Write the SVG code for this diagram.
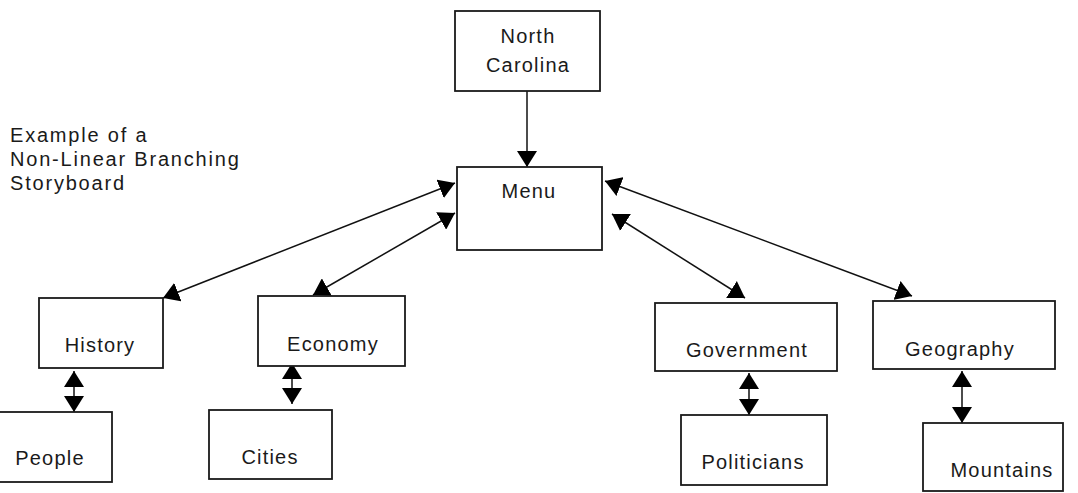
<svg xmlns="http://www.w3.org/2000/svg" width="1078" height="493" viewBox="0 0 1078 493">
<style>
.box{fill:#fff;stroke:#1a1a1a;stroke-width:1.8}
.lbl{font-family:"Liberation Sans",Arial,sans-serif;font-size:20px;fill:#1a1a1a;text-anchor:middle;letter-spacing:1.2px}
.note{font-family:"Liberation Sans",Arial,sans-serif;font-size:20px;fill:#1a1a1a;letter-spacing:1.8px}
.con{stroke:#111;stroke-width:1.5;fill:none}
</style>
<defs>
<marker id="ah" viewBox="0 0 16 20" refX="16" refY="10" markerWidth="16" markerHeight="20" markerUnits="userSpaceOnUse" orient="auto-start-reverse">
<path d="M0,0 L16,10 L0,20 Z" fill="#000"/>
</marker>
</defs>
<rect width="1078" height="493" fill="#fff"/>
<g id="note">
<text class="note" x="10" y="142">Example of a</text>
<text class="note" x="10" y="166">Non-Linear Branching</text>
<text class="note" x="10" y="190">Storyboard</text>
</g>
<g id="connectors">
<line class="con" x1="527" y1="91" x2="527" y2="167" marker-end="url(#ah)"/>
<line class="con" x1="163" y1="298" x2="455" y2="183" marker-start="url(#ah)" marker-end="url(#ah)"/>
<line class="con" x1="313" y1="295" x2="455" y2="213" marker-start="url(#ah)" marker-end="url(#ah)"/>
<line class="con" x1="745" y1="298" x2="612" y2="214" marker-start="url(#ah)" marker-end="url(#ah)"/>
<line class="con" x1="912" y1="296" x2="605" y2="181" marker-start="url(#ah)" marker-end="url(#ah)"/>
<line class="con" x1="74" y1="371" x2="74" y2="412" marker-start="url(#ah)" marker-end="url(#ah)"/>
<line class="con" x1="292" y1="363" x2="292" y2="404" marker-start="url(#ah)" marker-end="url(#ah)"/>
<line class="con" x1="749" y1="373" x2="749" y2="415" marker-start="url(#ah)" marker-end="url(#ah)"/>
<line class="con" x1="962" y1="371" x2="962" y2="423" marker-start="url(#ah)" marker-end="url(#ah)"/>
</g>
<g id="north-carolina">
<rect class="box" x="455" y="11" width="145" height="80"/>
<text class="lbl" x="528" y="43">North</text>
<text class="lbl" x="528" y="72">Carolina</text>
</g>
<g id="menu">
<rect class="box" x="457" y="167" width="145" height="83"/>
<text class="lbl" x="529" y="198">Menu</text>
</g>
<g id="history">
<rect class="box" x="39" y="298" width="124" height="70"/>
<text class="lbl" x="100" y="352">History</text>
</g>
<g id="economy">
<rect class="box" x="258" y="296" width="147" height="70"/>
<text class="lbl" x="333" y="351">Economy</text>
</g>
<g id="government">
<rect class="box" x="655" y="303" width="182" height="68"/>
<text class="lbl" x="747" y="357">Government</text>
</g>
<g id="geography">
<rect class="box" x="873" y="301" width="182" height="68"/>
<text class="lbl" x="960" y="356">Geography</text>
</g>
<g id="people">
<rect class="box" x="-2" y="412" width="114" height="70"/>
<text class="lbl" x="50" y="465">People</text>
</g>
<g id="cities">
<rect class="box" x="209" y="410" width="123" height="69"/>
<text class="lbl" x="270" y="464">Cities</text>
</g>
<g id="politicians">
<rect class="box" x="681" y="415" width="146" height="70"/>
<text class="lbl" x="753" y="469">Politicians</text>
</g>
<g id="mountains">
<rect class="box" x="923" y="423" width="140" height="68"/>
<text class="lbl" x="1002" y="477">Mountains</text>
</g>
</svg>
